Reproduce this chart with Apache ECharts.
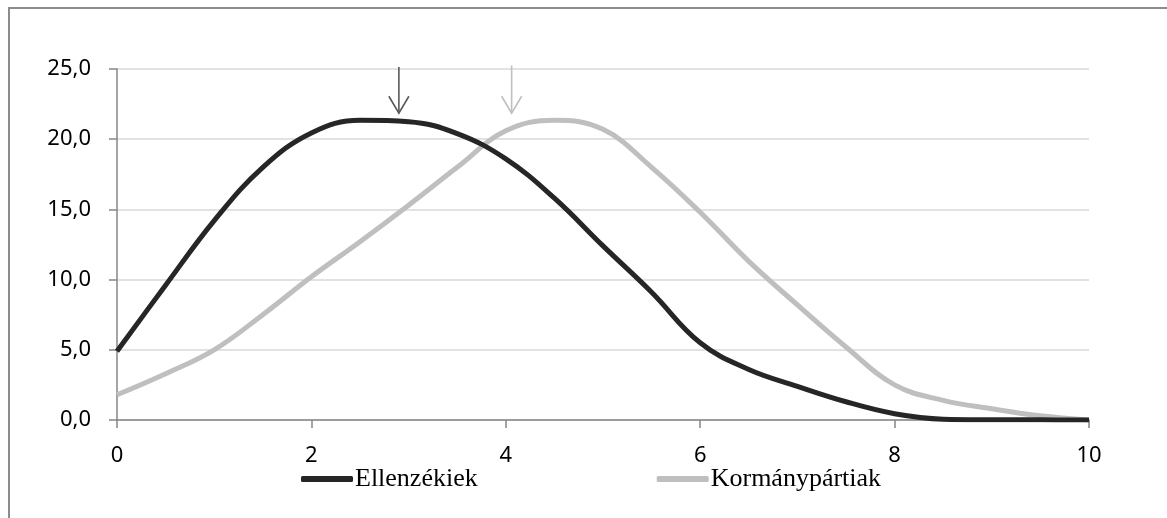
<!DOCTYPE html>
<html>
<head>
<meta charset="utf-8">
<script src="https://cdn.jsdelivr.net/npm/echarts@6/dist/echarts.min.js"></script>
<style>
  html, body { margin: 0; padding: 0; background: #fff; }
  #chart { width: 1167px; height: 518px; }
</style>
</head>
<body>
<div id="chart"></div>
<script>
var xValues = [0, 0.5, 1, 1.5, 2, 2.5, 3, 3.5, 4, 4.5, 5, 5.5, 6, 6.5, 7, 7.5, 8, 8.5, 9, 9.5, 10];
var ellenzekiek = [4.9, 9.6, 14.2, 18.0, 20.45, 21.35, 21.25, 20.4, 18.6, 15.8, 12.4, 9.1, 5.5, 3.6, 2.4, 1.3, 0.45, 0.06, 0.02, 0.01, 0];
var kormanypartiak = [1.8, 3.3, 5.0, 7.5, 10.2, 12.7, 15.3, 18.0, 20.6, 21.35, 20.7, 18.0, 14.8, 11.3, 8.2, 5.2, 2.5, 1.4, 0.8, 0.3, 0];
var seriesNames = ['Ellenzékiek', 'Kormánypártiak'];
// arrows: x position, top value, tip value
var arrowX = [2.9, 4.06];
var arrowTop = [25.15, 25.25];
var arrowTip = [21.85, 21.85];
var arrowColors = ['#595959', '#bfbfbf'];

function pairs(ys) {
  return xValues.map(function (x, i) { return [x, ys[i]]; });
}

var dom = document.getElementById('chart');
var myChart = echarts.init(dom, null, { renderer: 'canvas' });

var option = {
  animation: false,
  graphic: [
    {
      type: 'polyline',
      shape: { points: [[9, 518], [9, 8], [1167, 8]] },
      style: { stroke: '#8c8c8c', lineWidth: 2, fill: null }
    }
  ],
  grid: { left: 117, right: 78, top: 69, bottom: 98 },
  legend: {
    left: 296,
    top: 461,
    itemWidth: 52,
    itemHeight: 6,
    itemGap: 179,
    icon: 'roundRect',
    textStyle: { fontFamily: 'Liberation Serif', fontSize: 26, color: '#000', padding: [0, 0, 0, -3] },
    data: seriesNames
  },
  xAxis: {
    type: 'value',
    min: 0,
    max: 10,
    interval: 2,
    axisLine: { show: true, lineStyle: { color: '#868686', width: 1.5 } },
    axisTick: { show: true, length: 8, lineStyle: { color: '#868686', width: 1.5 } },
    axisLabel: { margin: 25, color: '#000', fontFamily: 'Noto Sans', fontSize: 22 },
    splitLine: { show: false }
  },
  yAxis: {
    type: 'value',
    min: 0,
    max: 25,
    interval: 5,
    axisLine: { show: true, lineStyle: { color: '#868686', width: 1.5 } },
    axisTick: { show: true, length: 8, lineStyle: { color: '#868686', width: 1.5 } },
    axisLabel: {
      margin: 26,
      color: '#000',
      fontFamily: 'Noto Sans',
      fontSize: 22,
      formatter: function (v) { return v.toFixed(1).replace('.', ','); }
    },
    splitLine: { show: true, lineStyle: { color: '#d9d9d9', width: 1.5 } }
  },
  series: [
    {
      name: seriesNames[0],
      type: 'line',
      smooth: 0.4,
      showSymbol: false,
      color: '#262626',
      lineStyle: { width: 5, color: '#262626' },
      data: pairs(ellenzekiek),
      z: 3
    },
    {
      name: seriesNames[1],
      type: 'line',
      smooth: 0.4,
      showSymbol: false,
      color: '#bfbfbf',
      lineStyle: { width: 5, color: '#bfbfbf' },
      data: pairs(kormanypartiak),
      z: 2
    },
    {
      type: 'custom',
      silent: true,
      clip: false,
      z: 4,
      data: arrowX.map(function (x, i) { return [x, arrowTop[i], arrowTip[i], i]; }),
      renderItem: function (params, api) {
        var top = api.coord([api.value(0), api.value(1)]);
        var tip = api.coord([api.value(0), api.value(2)]);
        var color = arrowColors[api.value(3)];
        var style = { stroke: color, lineWidth: 1.6, fill: null };
        return {
          type: 'group',
          children: [
            { type: 'line', shape: { x1: top[0], y1: top[1], x2: tip[0], y2: tip[1] }, style: style },
            {
              type: 'polyline',
              shape: { points: [[tip[0] - 10, tip[1] - 17], [tip[0], tip[1]], [tip[0] + 10, tip[1] - 17]] },
              style: style
            }
          ]
        };
      }
    }
  ]
};

if (option && typeof option === 'object') {
  myChart.setOption(option);
}

window.addEventListener('resize', myChart.resize);
</script>
</body>
</html>
